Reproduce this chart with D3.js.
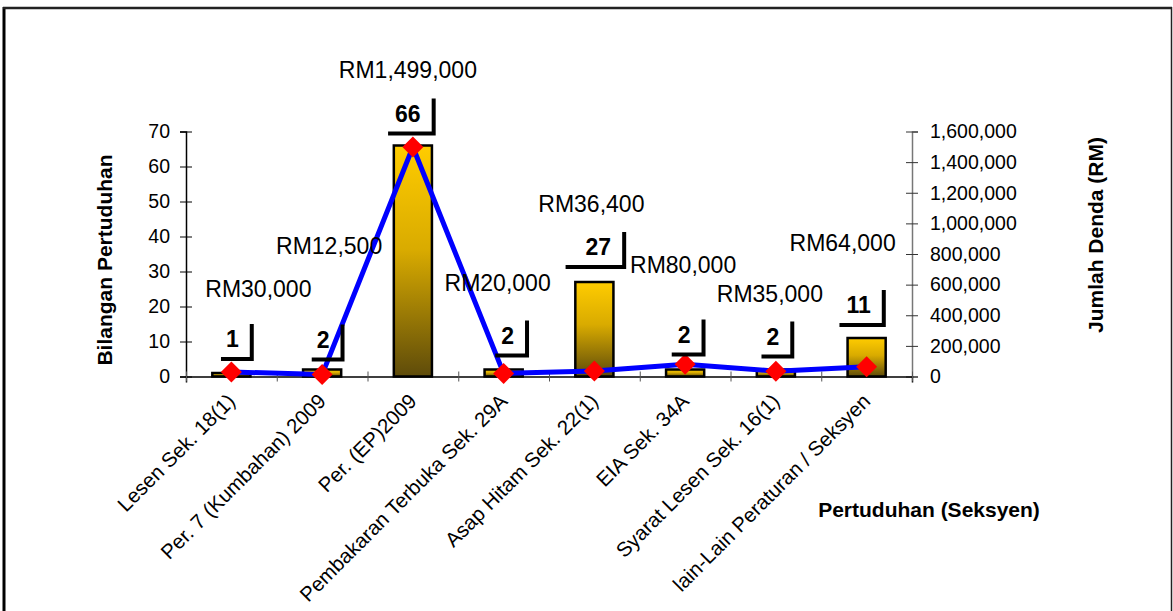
<!DOCTYPE html>
<html><head><meta charset="utf-8">
<script src="https://cdn.jsdelivr.net/npm/d3@7"></script>
<style>
html,body{margin:0;padding:0;background:#fff;}
svg{display:block;font-family:"Liberation Sans",Arial,sans-serif;}
</style></head><body>
<svg id="chart" width="1173" height="611"></svg>
<script>
// Charges per section and total fines imposed
const categories = [
  "Lesen Sek. 18(1)",
  "Per. 7 (Kumbahan) 2009",
  "Per. (EP)2009",
  "Pembakaran Terbuka Sek. 29A",
  "Asap Hitam Sek. 22(1)",
  "EIA Sek. 34A",
  "Syarat Lesen Sek. 16(1)",
  "lain-Lain Peraturan / Seksyen"
];
const chargeCounts = [1, 2, 66, 2, 27, 2, 2, 11];
const fineTotals = [30000, 12500, 1499000, 20000, 36400, 80000, 35000, 64000];
const countTicks = [0, 10, 20, 30, 40, 50, 60, 70];
const fineTicks = [0, 200000, 400000, 600000, 800000, 1000000, 1200000, 1400000, 1600000];

// Hand-placed label nudges: [dx, dy] from the bar top / marker
const countLabelNudge = [[1, -26], [1, -22], [-5, -24], [4, -26], [4, -27], [-1, -27], [-3, -25], [-8, -25]];
const fineLabelNudge = [[27, -75], [7, -121], [-5, -69], [-6, -82], [-3, -159], [-2, -91], [-6, -69], [-24, -116]];
const bracketLeftPad = [3, 3, 5, 4, 18, 4, 3, 5];

const svg = d3.select("#chart");
const plot = {left: 186, right: 912, top: 131.5, bottom: 376.5};

// frame
svg.append("line").attr("x1", 4).attr("x2", 4).attr("y1", 7).attr("y2", 611)
  .attr("stroke", "#000").attr("stroke-width", 3);
svg.append("line").attr("x1", 3).attr("x2", 1172).attr("y1", 8).attr("y2", 8)
  .attr("stroke", "#222").attr("stroke-width", 2.5);
svg.append("line").attr("x1", 1171.5).attr("x2", 1171.5).attr("y1", 7).attr("y2", 611)
  .attr("stroke", "#222").attr("stroke-width", 1.5);

const x = d3.scaleBand().domain(categories).range([plot.left, plot.right])
  .paddingInner(0.58).paddingOuter(0.29);
const xEdge = d3.scaleLinear().domain([0, categories.length]).range([plot.left, plot.right]);
const yCount = d3.scaleLinear().domain([0, 70]).range([plot.bottom, plot.top]);
const yFine = d3.scaleLinear().domain([0, 1600000]).range([plot.bottom, plot.top]);
const cx = c => x(c) + x.bandwidth() / 2;

// bar gradient
const defs = svg.append("defs");
const grad = defs.append("linearGradient").attr("id", "barFill")
  .attr("x1", 0).attr("y1", 0).attr("x2", 0).attr("y2", 1);
grad.append("stop").attr("offset", "0%").attr("stop-color", "#FFCC00");
grad.append("stop").attr("offset", "45%").attr("stop-color", "#D9AB00");
grad.append("stop").attr("offset", "100%").attr("stop-color", "#5E4B0A");

// left axis
const gL = svg.append("g").attr("transform", `translate(${plot.left},0)`)
  .call(d3.axisLeft(yCount).tickValues(countTicks).tickSize(6).tickPadding(10));
gL.select(".domain").attr("stroke", "#000").attr("stroke-width", 1.5);
gL.selectAll(".tick line").attr("x1", 6).attr("x2", -6).attr("stroke", "#000");
gL.selectAll(".tick text").attr("font-size", 19.5).attr("fill", "#000")
  .attr("font-family", "Liberation Sans, Arial, sans-serif").attr("x", -16);

// right axis
const gR = svg.append("g").attr("transform", `translate(${plot.right},0)`)
  .call(d3.axisRight(yFine).tickValues(fineTicks).tickFormat(d3.format(",")).tickSize(6));
gR.select(".domain").attr("stroke", "#777").attr("stroke-width", 1.5);
gR.selectAll(".tick line").attr("x1", -6).attr("x2", 6).attr("stroke", "#333");
gR.selectAll(".tick text").attr("font-size", 19.5).attr("fill", "#000")
  .attr("font-family", "Liberation Sans, Arial, sans-serif").attr("x", 18);

// bars
svg.append("g").selectAll("rect").data(categories).join("rect")
  .attr("x", c => x(c))
  .attr("y", (c, i) => yCount(chargeCounts[i]))
  .attr("width", x.bandwidth())
  .attr("height", (c, i) => plot.bottom - yCount(chargeCounts[i]))
  .attr("fill", "url(#barFill)")
  .attr("stroke", "#000").attr("stroke-width", 2.5);

// bottom axis with ticks on category edges
const gB = svg.append("g").attr("transform", `translate(0,${plot.bottom})`)
  .call(d3.axisBottom(xEdge).ticks(categories.length).tickFormat("").tickSize(6));
gB.select(".domain").attr("stroke", "#000").attr("stroke-width", 1.5);
gB.selectAll(".tick line").attr("y1", -5).attr("y2", 5).attr("stroke", "#555");

// category labels
svg.append("g").selectAll("text").data(categories).join("text")
  .attr("transform", c => `translate(${cx(c) + 5},${plot.bottom + 26}) rotate(-45)`)
  .attr("text-anchor", "end")
  .attr("font-size", 20.5).attr("fill", "#000")
  .text(c => c);

// fines line
const line = d3.line().x((d, i) => cx(categories[i])).y(d => yFine(d));
svg.append("path").datum(fineTotals).attr("d", line)
  .attr("fill", "none").attr("stroke", "#0000FF").attr("stroke-width", 5)
  .attr("stroke-linejoin", "round");

svg.append("g").selectAll("path").data(fineTotals).join("path")
  .attr("transform", (d, i) => `translate(${cx(categories[i])},${yFine(d)})`)
  .attr("d", "M0,-10.5L10.5,0L0,10.5L-10.5,0Z")
  .attr("fill", "#FF0000");

// count labels with bracket
const countG = svg.append("g");
chargeCounts.forEach((v, i) => {
  const bx = cx(categories[i]) + countLabelNudge[i][0];
  const by = yCount(v) + countLabelNudge[i][1];
  const t = countG.append("text").attr("x", bx).attr("y", by)
    .attr("text-anchor", "middle").attr("font-size", 23).attr("font-weight", "bold")
    .attr("fill", "#000").text(v);
  const w = t.node().getComputedTextLength();
  const right = bx + w / 2 + 13;
  const left = bx - w / 2 - bracketLeftPad[i];
  countG.append("path")
    .attr("d", `M${right},${by - 21}L${right},${by + 12}L${left},${by + 12}`)
    .attr("fill", "none").attr("stroke", "#000").attr("stroke-width", 4)
    .attr("stroke-linecap", "square");
});

// fine labels
svg.append("g").selectAll("text").data(fineTotals).join("text")
  .attr("x", (d, i) => cx(categories[i]) + fineLabelNudge[i][0])
  .attr("y", (d, i) => yFine(d) + fineLabelNudge[i][1])
  .attr("text-anchor", "middle").attr("font-size", 23).attr("fill", "#000")
  .text(d => "RM" + d3.format(",")(d));

// axis titles
svg.append("text").attr("transform", "translate(112,260) rotate(-90)")
  .attr("text-anchor", "middle").attr("font-size", 21).attr("font-weight", "bold")
  .text("Bilangan Pertuduhan");
svg.append("text").attr("transform", "translate(1103,235) rotate(-90)")
  .attr("text-anchor", "middle").attr("font-size", 21).attr("font-weight", "bold")
  .text("Jumlah Denda (RM)");
svg.append("text").attr("x", 929).attr("y", 517)
  .attr("text-anchor", "middle").attr("font-size", 21).attr("font-weight", "bold")
  .text("Pertuduhan (Seksyen)");
</script>
</body></html>
